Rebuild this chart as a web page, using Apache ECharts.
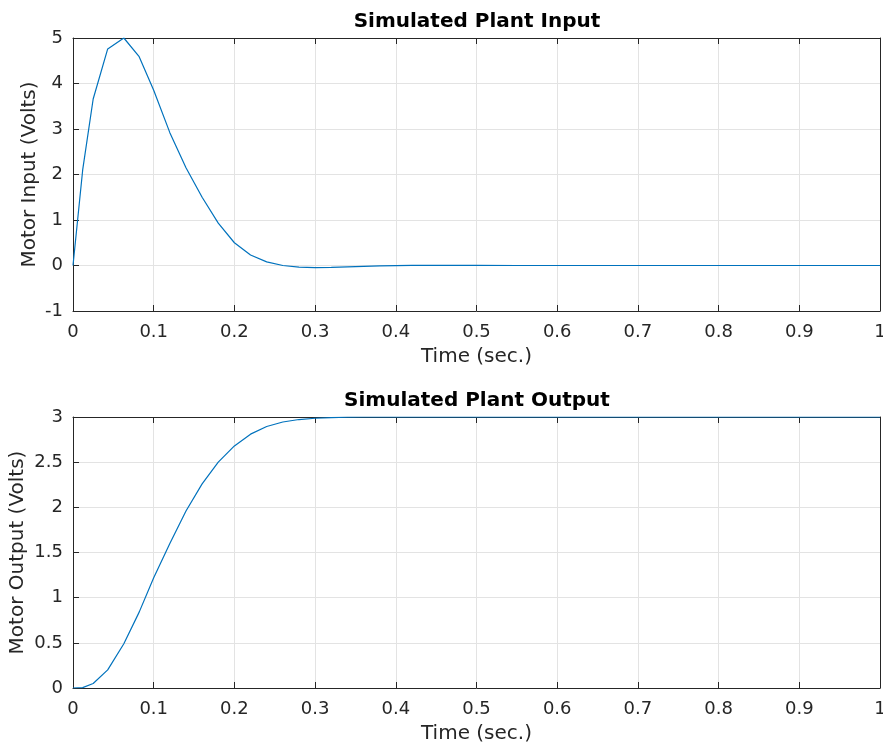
<!DOCTYPE html>
<html>
<head>
<meta charset="utf-8">
<script src="https://cdn.jsdelivr.net/npm/echarts@6/dist/echarts.min.js"></script>
<style>
html,body{margin:0;padding:0;background:#fff;}
#chart{width:883px;height:750px;}
</style>
</head>
<body>
<div id="chart"></div>
<script>
// Data
const inputTime = [0, 0.012, 0.025, 0.043, 0.063, 0.082, 0.1, 0.12, 0.14, 0.16, 0.18, 0.2, 0.22, 0.24, 0.26, 0.28, 0.3, 0.32, 0.34, 0.36, 0.38, 0.4, 0.42, 0.44, 0.46, 0.48, 0.5, 0.55, 0.6, 0.7, 0.8, 0.9, 1.0];
const inputVolts = [0, 2.1, 3.66, 4.76, 5.0, 4.59, 3.85, 2.92, 2.15, 1.5, 0.93, 0.5, 0.23, 0.08, 0.0, -0.035, -0.045, -0.04, -0.03, -0.02, -0.01, -0.003, 0.002, 0.004, 0.004, 0.003, 0.001, 0, 0, 0, 0, 0, 0];
const outputTime = [0, 0.012, 0.025, 0.043, 0.063, 0.082, 0.1, 0.12, 0.14, 0.16, 0.18, 0.2, 0.22, 0.24, 0.26, 0.28, 0.3, 0.32, 0.34, 0.36, 0.4, 0.5, 0.6, 0.7, 0.8, 0.9, 1.0];
const outputVolts = [0, 0.004, 0.05, 0.2, 0.49, 0.84, 1.22, 1.6, 1.96, 2.26, 2.5, 2.68, 2.81, 2.895, 2.945, 2.972, 2.986, 2.994, 2.998, 3.0, 3.0, 3.0, 3.0, 3.0, 3.0, 3.0, 3.0];
const xTicks = {min: 0, max: 1, interval: 0.1};
const yTicksTop = {min: -1, max: 5, interval: 1};
const yTicksBottom = {min: 0, max: 3, interval: 0.5};
const titles = ['Simulated Plant Input', 'Simulated Plant Output'];
const yNames = ['Motor Input (Volts)', 'Motor Output (Volts)'];
const xName = 'Time (sec.)';

const FONT = 'DejaVu Sans';
const TXT = '#262626';
const GRIDC = '#e3e3e3';
const LINE = '#0072BD';

const chart = echarts.init(document.getElementById('chart'), null, {renderer: 'canvas'});

function xAxisBottom(gi) {
  return {
    type: 'value', gridIndex: gi, position: 'bottom',
    min: xTicks.min, max: xTicks.max, interval: xTicks.interval,
    name: xName, nameLocation: 'middle', nameGap: 36, nameMoveOverlap: false,
    nameTextStyle: {fontFamily: FONT, fontSize: 20, color: TXT},
    axisLine: {show: true, onZero: false, lineStyle: {color: TXT, width: 1}},
    axisTick: {show: true, inside: true, length: 6, lineStyle: {color: TXT}},
    axisLabel: {fontFamily: FONT, fontSize: 18, color: TXT, margin: 12,
      formatter: v => String(Math.round(v * 10) / 10)},
    splitLine: {show: true, lineStyle: {color: GRIDC, width: 1}}
  };
}
function xAxisTop(gi) {
  return {
    type: 'value', gridIndex: gi, position: 'top',
    min: xTicks.min, max: xTicks.max, interval: xTicks.interval,
    axisLine: {show: true, onZero: false, lineStyle: {color: TXT, width: 1}},
    axisTick: {show: true, inside: true, length: 6, lineStyle: {color: TXT}},
    axisLabel: {show: false},
    splitLine: {show: false}
  };
}
function yAxisLeft(gi, t, name, gap) {
  return {
    type: 'value', gridIndex: gi, position: 'left',
    min: t.min, max: t.max, interval: t.interval,
    name: name, nameLocation: 'middle', nameGap: gap, nameMoveOverlap: false,
    nameTextStyle: {fontFamily: FONT, fontSize: 20, color: TXT},
    axisLine: {show: true, onZero: false, lineStyle: {color: TXT, width: 1}},
    axisTick: {show: true, inside: true, length: 6, lineStyle: {color: TXT}},
    axisLabel: {fontFamily: FONT, fontSize: 18, color: TXT, margin: 10},
    splitLine: {show: true, lineStyle: {color: GRIDC, width: 1}}
  };
}
function yAxisRight(gi, t) {
  return {
    type: 'value', gridIndex: gi, position: 'right',
    min: t.min, max: t.max, interval: t.interval,
    axisLine: {show: true, onZero: false, lineStyle: {color: TXT, width: 1}},
    axisTick: {show: false},
    axisLabel: {show: false},
    splitLine: {show: false}
  };
}

const option = {
  backgroundColor: '#ffffff',
  animation: false,
  title: [
    {text: titles[0], left: 472, top: 7, textAlign: 'center',
     textStyle: {fontFamily: FONT, fontSize: 20, fontWeight: 'bold', color: '#000'}},
    {text: titles[1], left: 472, top: 386, textAlign: 'center',
     textStyle: {fontFamily: FONT, fontSize: 20, fontWeight: 'bold', color: '#000'}}
  ],
  grid: [
    {left: 73, top: 38, width: 807, height: 273, outerBoundsMode: 'none', containLabel: false},
    {left: 73, top: 417, width: 807, height: 271, outerBoundsMode: 'none', containLabel: false}
  ],
  xAxis: [xAxisBottom(0), xAxisTop(0), xAxisBottom(1), xAxisTop(1)],
  yAxis: [yAxisLeft(0, yTicksTop, yNames[0], 33), yAxisRight(0, yTicksTop),
          yAxisLeft(1, yTicksBottom, yNames[1], 45), yAxisRight(1, yTicksBottom)],
  series: [
    {type: 'line', xAxisIndex: 0, yAxisIndex: 0, showSymbol: false, symbol: 'none',
     lineStyle: {color: LINE, width: 1.2},
     data: inputTime.map((t, i) => [t, inputVolts[i]])},
    {type: 'line', xAxisIndex: 2, yAxisIndex: 2, showSymbol: false, symbol: 'none',
     lineStyle: {color: LINE, width: 1.2},
     data: outputTime.map((t, i) => [t, outputVolts[i]])}
  ]
};
chart.setOption(option);
</script>
</body>
</html>
